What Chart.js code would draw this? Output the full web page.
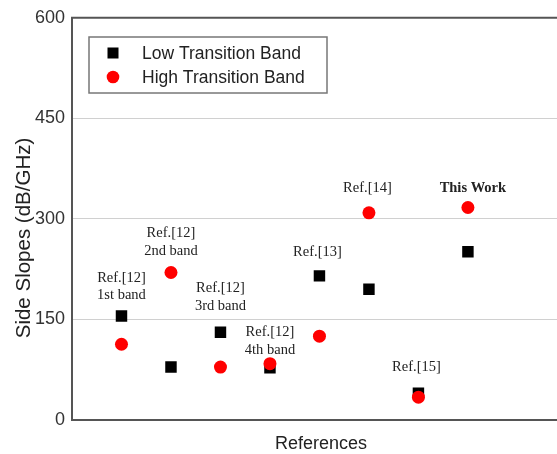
<!DOCTYPE html>
<html>
<head>
<meta charset="utf-8">
<script src="https://cdn.jsdelivr.net/npm/chart.js@4/dist/chart.umd.min.js"></script>
<style>
  html, body { margin: 0; padding: 0; background: #fff; overflow: hidden; }
  #wrap { width: 575px; height: 454px; }
</style>
</head>
<body>
<div id="wrap"><canvas id="slopeChart" width="575" height="454"></canvas></div>
<script>
// 数据
const categories = ['Ref.[12] 1st band', 'Ref.[12] 2nd band', 'Ref.[12] 3rd band', 'Ref.[12] 4th band', 'Ref.[13]', 'Ref.[14]', 'Ref.[15]', 'This Work'];
const lowBand = [155, 79, 131, 78, 215, 195, 40, 251];
const highBand = [113, 220, 79, 84, 125, 309, 34, 317];
const yTicks = [0, 150, 300, 450, 600];
const seriesNames = ['Low Transition Band', 'High Transition Band'];

// 标注 (x 为类别序号, y 为第一行所在的数值)
const noteTexts = [['Ref.[12]', '1st band'], ['Ref.[12]', '2nd band'], ['Ref.[12]', '3rd band'], ['Ref.[12]', '4th band'], ['Ref.[13]'], ['Ref.[14]'], ['Ref.[15]'], ['This Work']];
const noteX = [1, 2, 3, 4, 4.96, 5.97, 6.96, 8.1];
const noteY = [212, 278, 196, 131, 250, 346, 79, 346];

const toPoints = (vals) => vals.map((v, i) => ({x: i + 1, y: v}));

const overlay = {
    id: 'overlay',
    afterDatasetsDraw(chart) {
        const {ctx, chartArea, scales} = chart;
        const xs = scales.x, ys = scales.y;
        ctx.save();
        // 上边框
        ctx.strokeStyle = '#555';
        ctx.lineWidth = 2;
        ctx.beginPath();
        ctx.moveTo(chartArea.left - 1, chartArea.top);
        ctx.lineTo(chartArea.right, chartArea.top);
        ctx.stroke();

        // 标注文字
        ctx.fillStyle = '#222';
        ctx.textAlign = 'center';
        ctx.textBaseline = 'middle';
        noteTexts.forEach((lines, i) => {
            const bold = lines[0] === 'This Work';
            ctx.font = (bold ? 'bold ' : '') + '14.5px "Liberation Serif", "Times New Roman", serif';
            const px = xs.getPixelForValue(noteX[i]);
            const py = ys.getPixelForValue(noteY[i]);
            lines.forEach((t, j) => ctx.fillText(t, px, py + j * 17.7));
        });

        // 图例
        const bx = 89, by = 37, bw = 238, bh = 56;
        ctx.strokeStyle = '#777';
        ctx.lineWidth = 1.5;
        ctx.strokeRect(bx, by, bw, bh);
        ctx.fillStyle = '#000';
        ctx.fillRect(113 - 5.5, 53 - 5.5, 11, 11);
        ctx.fillStyle = '#ff0000';
        ctx.beginPath();
        ctx.arc(113, 77, 6.3, 0, Math.PI * 2);
        ctx.fill();
        ctx.fillStyle = '#222';
        ctx.font = '17.5px "Liberation Sans", Arial, sans-serif';
        ctx.textAlign = 'left';
        ctx.fillText(seriesNames[0], 142, 54);
        ctx.fillText(seriesNames[1], 142, 78);

        // 轴标题
        ctx.font = '18px "Liberation Sans", Arial, sans-serif';
        ctx.textAlign = 'center';
        ctx.fillText('References', 321, 444);
        ctx.font = '20.5px "Liberation Sans", Arial, sans-serif';
        ctx.translate(24, 238);
        ctx.rotate(-Math.PI / 2);
        ctx.fillText('Side Slopes (dB/GHz)', 0, 0);
        ctx.restore();
    }
};

new Chart(document.getElementById('slopeChart').getContext('2d'), {
    type: 'scatter',
    data: {
        datasets: [{
            label: seriesNames[0],
            data: toPoints(lowBand),
            pointStyle: 'rect',
            pointRadius: 8.1,
            backgroundColor: '#000',
            borderColor: '#000',
            borderWidth: 0,
            order: 1
        }, {
            label: seriesNames[1],
            data: toPoints(highBand),
            pointStyle: 'circle',
            pointRadius: 6.5,
            backgroundColor: '#ff0000',
            borderColor: '#ff0000',
            borderWidth: 0,
            order: 0
        }]
    },
    options: {
        responsive: false,
        animation: false,
        layout: {padding: {top: 16, right: 6, left: 0, bottom: 0}},
        plugins: {legend: {display: false}, tooltip: {enabled: false}},
        scales: {
            x: {
                type: 'linear',
                min: 0,
                max: 10,
                ticks: {display: false},
                grid: {display: false},
                border: {display: true, color: '#555', width: 2},
                afterFit: (scale) => { scale.height = 34; }
            },
            y: {
                min: 0,
                max: 600,
                afterBuildTicks: (scale) => { scale.ticks = yTicks.map(v => ({value: v})); },
                ticks: {
                    padding: 7,
                    color: '#333',
                    font: {family: '"Liberation Sans", Arial, sans-serif', size: 18}
                },
                grid: {
                    drawTicks: false,
                    color: (c) => (c.tick && (c.tick.value === 0 || c.tick.value === 600)) ? 'rgba(0,0,0,0)' : '#d0d0d0',
                    lineWidth: 1
                },
                border: {display: true, color: '#555', width: 2},
                afterFit: (scale) => { scale.width = 72; }
            }
        }
    },
    plugins: [overlay]
});
</script>
</body>
</html>
